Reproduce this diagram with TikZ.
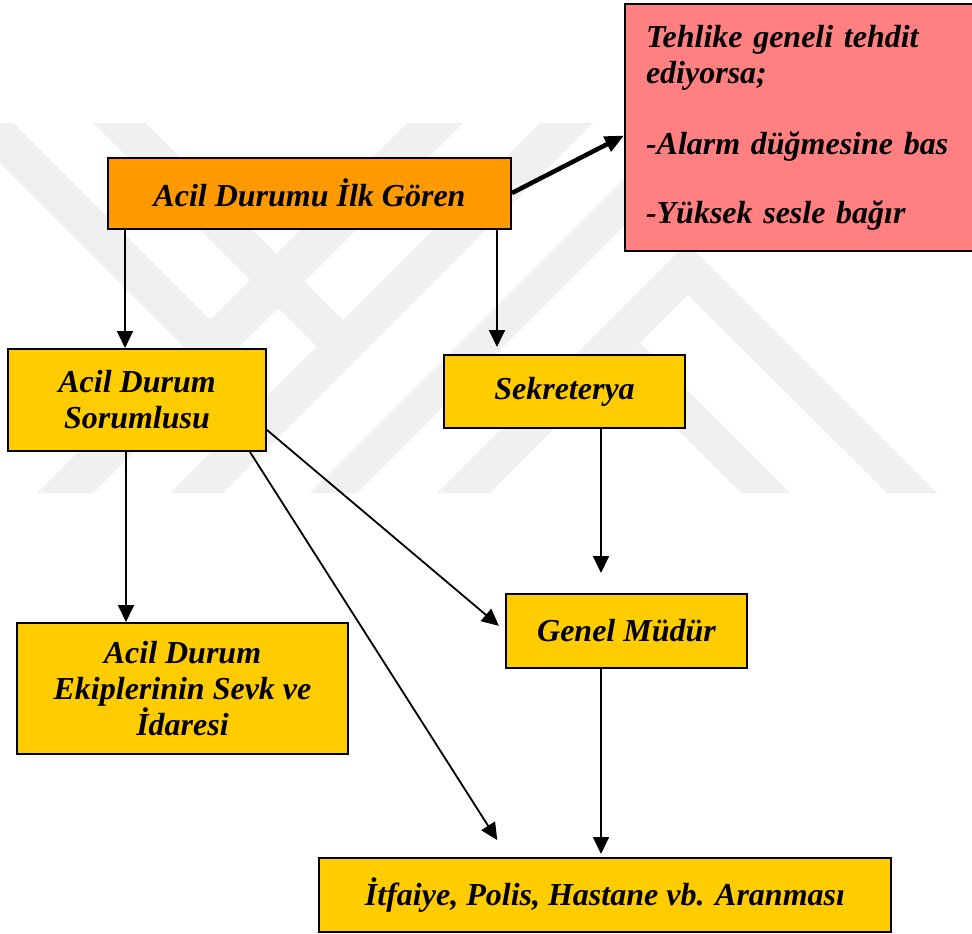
\documentclass[tikz,border=0pt]{standalone}
\usepackage{fontspec}
\setmainfont{Liberation Serif}
\usepackage{xcolor}
\usepackage{tikz}
\usetikzlibrary{arrows.meta,positioning,calc}
\definecolor{orng}{HTML}{FF9900}
\definecolor{ylw}{HTML}{FFCC00}
\definecolor{pnk}{HTML}{FF8080}
\tikzset{
  box/.style={draw,line width=2pt,fill=ylw,align=center,inner sep=0pt,font=\bfseries\itshape\fontsize{32}{36}\selectfont},
  arr/.style={-{Triangle[length=17pt,width=16pt]},line width=1.8pt},
  tarr/.style={-{Triangle[length=19pt,width=16pt]},line width=4.5pt},
  wm/.style={fill=black!6},
}

\begin{document}
\begin{tikzpicture}[x=1pt,y=-1pt]
\useasboundingbox (0,0) rectangle (972,934);
% watermark
\fill[wm] (-40,123)--(14,123)--(211,320)--(211.5,374.5)--cycle;
\fill[wm] (93,123)--(146,123)--(343,320)--(343,373)--cycle;
\foreach \a/\b in {37/93,170/223,310/357} {\fill[wm] (\a,493)--(\b,493)--(\b+370,123)--(\a+370,123)--cycle;}
\fill[wm] (437,493)--(490,493)--(688,295)--(887,493)--(937,493)--(687,243)--cycle;
\fill[wm] (741,493)--(790,493)--(640,343)--(615.5,367.5)--cycle;
% boxes
\node[box,fill=orng,minimum width=403pt,minimum height=71pt] (gor) at (309.5,193) {Acil Durumu İlk Gören};
\node[box,fill=pnk,anchor=north west,align=left,minimum width=351pt,minimum height=247pt,text width=309pt,inner xsep=21pt] (alarm) at (624,3) {Tehlike geneli tehdit\\ediyorsa;\\[35pt]-Alarm düğmesine bas\\[33pt]-Yüksek sesle bağır\\[-3pt]};
\node[box,minimum width=258pt,minimum height=102pt] (sor) at (137,400) {Acil Durum\\Sorumlusu};
\node[box,minimum width=241pt,minimum height=73pt] (sek) at (564.5,391.5) {Sekreterya};
\node[box,minimum width=241pt,minimum height=74pt] (gen) at (626.5,631) {Genel Müdür};
\node[box,minimum width=331pt,minimum height=131pt] (eki) at (182.5,688.5) {Acil Durum\\Ekiplerinin Sevk ve\\İdaresi};
\node[box,minimum width=572pt,minimum height=74pt] (itf) at (605,895) {İtfaiye, Polis, Hastane vb. Aranması};
% connectors
\draw[tarr] (gor.east) -- ([yshift=-8pt]alarm.west);
\draw[arr] ([xshift=18pt]gor.south west) -- ([xshift=18pt]gor.south west |- sor.north);
\draw[arr,shorten >=7pt] ([xshift=-15pt]gor.south east) -- ([xshift=-15pt]gor.south east |- sek.north);
\draw[arr] ([xshift=-11pt]sor.south) -- ([xshift=-11pt]sor.south |- eki.north);
\draw[arr,shorten >=8pt] ([yshift=-30pt]sor.east) -- (gen.west);
\draw[arr,shorten >=20pt] ([xshift=-17pt]sor.south east) -- ([xshift=190pt]itf.north west);
\draw[arr,shorten >=20pt] ([xshift=36.5pt]sek.south) -- ([xshift=36.5pt]sek.south |- gen.north);
\draw[arr,shorten >=3pt] ([xshift=-25.5pt]gen.south) -- ([xshift=-25.5pt]gen.south |- itf.north);
\end{tikzpicture}
\end{document}
